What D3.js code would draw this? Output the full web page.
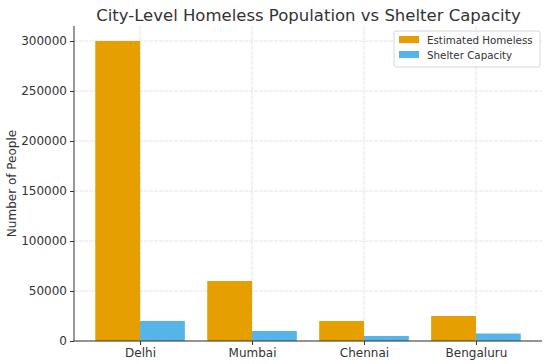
<!DOCTYPE html>
<html><head><meta charset="utf-8">
<script src="https://cdn.jsdelivr.net/npm/d3@7"></script>
<style>body{margin:0;background:#fff}svg{display:block;font-family:"DejaVu Sans",sans-serif}</style>
</head><body><svg id="c" width="550" height="364"></svg>
<script>
const cities = ["Delhi", "Mumbai", "Chennai", "Bengaluru"];
const homeless = [300000, 60000, 20000, 25000];
const shelter = [20000, 10000, 5000, 7500];
const seriesNames = ["Estimated Homeless", "Shelter Capacity"];
const colors = ["#E69F00", "#56B4E9"];
const yTicks = [0, 50000, 100000, 150000, 200000, 250000, 300000];

const svg = d3.select("#c");
const L = 74, R = 542, T = 26, B = 341;
const x = d3.scaleLinear().domain([-0.59, 3.59]).range([L, R]);
const y = d3.scaleLinear().domain([0, 315000]).range([B, T]);
const bw = 0.4;
const txt = "#333";

// grid
svg.append("g").selectAll("line.h").data(yTicks).join("line")
  .attr("x1", L).attr("x2", R).attr("y1", d => y(d)).attr("y2", d => y(d))
  .attr("stroke", "#dedede").attr("stroke-width", 0.8).attr("stroke-dasharray", "4,1");
svg.append("g").selectAll("line.v").data(cities).join("line")
  .attr("x1", (d, i) => x(i)).attr("x2", (d, i) => x(i)).attr("y1", T).attr("y2", B)
  .attr("stroke", "#dedede").attr("stroke-width", 0.8).attr("stroke-dasharray", "4,1");

// bars
const series = [homeless, shelter];
series.forEach((vals, s) => {
  svg.append("g").selectAll("rect").data(vals).join("rect")
    .attr("x", (d, i) => x(i - bw + s * bw))
    .attr("width", x(bw) - x(0))
    .attr("y", d => y(d))
    .attr("height", d => y(0) - y(d))
    .attr("fill", colors[s]);
});

// axes
const ya = d3.axisLeft(y).tickValues(yTicks).tickFormat(d3.format("d")).tickSize(4).tickPadding(3);
const gy = svg.append("g").attr("transform", `translate(${L},0)`).call(ya);
gy.select(".domain").attr("d", `M0,${T}V${B}`);
const xa = d3.axisBottom(x).tickValues(cities.map((d, i) => i)).tickFormat(i => cities[i]).tickSize(4).tickPadding(3);
const gx = svg.append("g").attr("transform", `translate(0,${B})`).call(xa);
gx.select(".domain").attr("d", `M${L},0H${R}`);
[gx, gy].forEach(g => {
  g.selectAll("text").attr("font-size", 12).attr("fill", txt).attr("font-family", "DejaVu Sans");
  g.selectAll("line").attr("stroke", txt);
  g.select(".domain").attr("stroke", txt).attr("stroke-width", 1);
});

// labels
svg.append("text").attr("x", (L + R) / 2 + 0.5).attr("y", 21).attr("text-anchor", "middle")
  .attr("font-size", 16.5).attr("fill", txt).text("City-Level Homeless Population vs Shelter Capacity");
svg.append("text").attr("transform", `translate(16,${(T + B) / 2}) rotate(-90)`).attr("text-anchor", "middle")
  .attr("font-size", 12).attr("fill", txt).text("Number of People");

// legend
const lg = svg.append("g").attr("transform", "translate(394,31)");
lg.append("rect").attr("width", 146).attr("height", 36).attr("rx", 2).attr("fill", "#fff")
  .attr("fill-opacity", 0.8).attr("stroke", "#ccc").attr("stroke-width", 0.8);
seriesNames.forEach((n, i) => {
  lg.append("rect").attr("x", 5).attr("y", 5 + i * 15).attr("width", 20).attr("height", 7).attr("fill", colors[i]);
  lg.append("text").attr("x", 33).attr("y", 12.5 + i * 15).attr("font-size", 10.3).attr("fill", txt).text(n);
});
</script></body></html>
